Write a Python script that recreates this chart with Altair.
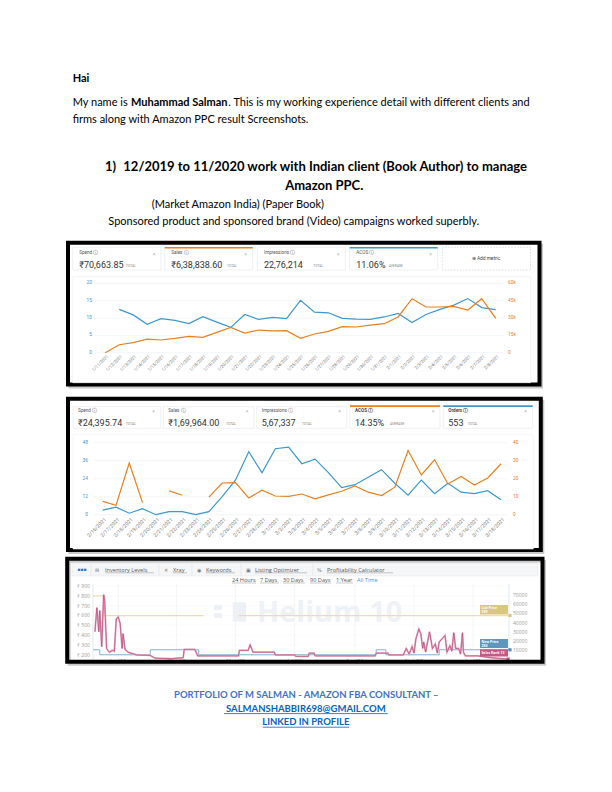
import altair as alt
import pandas as pd

# ---------------- data ----------------
p1_metric_names = ["Spend ⓘ", "Sales ⓘ", "Impressions ⓘ", "ACOS ⓘ"]
p1_metric_values = ["₹70,663.85", "₹6,38,838.60", "22,76,214", "11.06%"]
p1_metric_units = ["TOTAL", "TOTAL", "TOTAL", "AVERAGE"]

p1_dates = ["1/11/2021", "1/12/2021", "1/13/2021", "1/14/2021", "1/15/2021", "1/16/2021",
            "1/17/2021", "1/18/2021", "1/19/2021", "1/20/2021", "1/21/2021", "1/22/2021",
            "1/23/2021", "1/24/2021", "1/25/2021", "1/26/2021", "1/27/2021", "1/28/2021",
            "1/29/2021", "1/30/2021", "1/31/2021", "2/1/2021", "2/2/2021", "2/3/2021",
            "2/4/2021", "2/5/2021", "2/6/2021", "2/7/2021", "2/8/2021"]
p1_acos = [None, 12.5, 10.9, 8.2, 9.8, 9.3, 8.4, 10.4, 8.8, 7.3, 11.0, 9.6, 10.2, 9.8, 15.1,
           11.7, 11.5, 9.9, 9.7, 9.6, 10.3, 11.3, 8.7, 11.0, 12.5, 13.7, 15.6, 13.0, 12.4]
p1_sales = [0, 6900, 8700, 11800, 11000, 12400, 14100, 13300, 17600, 21900, 17000, 19600,
            18800, 19000, 12400, 16200, 18500, 22500, 22200, 23900, 25100, 30900, 46700,
            39500, 39500, 40100, 36900, 46700, 29700]
p1_left_ticks = [0, 5, 10, 15, 20]
p1_left_labels = ["0", "5", "10", "15", "20"]
p1_right_ticks = [0, 15000, 30000, 45000, 60000]
p1_right_labels = ["0", "15k", "30k", "45k", "60k"]

p2_metric_names = ["Spend ⓘ", "Sales ⓘ", "Impressions ⓘ", "ACOS ⓘ", "Orders ⓘ"]
p2_metric_values = ["₹24,395.74", "₹1,69,964.00", "5,67,337", "14.35%", "553"]
p2_metric_units = ["TOTAL", "TOTAL", "TOTAL", "AVERAGE", "TOTAL"]

p2_dates = ["2/16/2021", "2/17/2021", "2/18/2021", "2/19/2021", "2/20/2021", "2/21/2021",
            "2/22/2021", "2/23/2021", "2/24/2021", "2/25/2021", "2/26/2021", "2/27/2021",
            "2/28/2021", "3/1/2021", "3/2/2021", "3/3/2021", "3/4/2021", "3/5/2021",
            "3/6/2021", "3/7/2021", "3/8/2021", "3/9/2021", "3/10/2021", "3/11/2021",
            "3/12/2021", "3/13/2021", "3/14/2021", "3/15/2021", "3/16/2021", "3/17/2021",
            "3/18/2021"]
p2_orders = [3, 5, 1, 4, 0, 2, 2, 0, 2, 12, 23, 42, 28, 44, 45, 34, 37, 28, 18, 20, 25, 30,
             21, 13, 23, 14, 21, 15, 14, 16, 10]
p2_acos = [7.4, 5.2, 28.7, 6.7, None, 13.2, 10.8, None, 9.8, 17.6, 17.8, 9.3, 13.6, 10.4,
           10.2, 11.5, 8.8, 11.0, 13.0, 16.0, 12.5, 10.6, 15.3, 35.7, 22.1, 30.5, 17.1, 21.2,
           16.5, 20.4, 28.3]
p2_left_ticks = [0, 12, 24, 36, 48]
p2_left_labels = ["0", "12", "24", "36", "48"]
p2_right_ticks = [0, 10, 20, 30, 40]
p2_right_labels = ["0", "10", "20", "30", "40"]

h_tabs = ["Inventory Levels", "Xray", "Keywords", "Listing Optimizer", "Profitability Calculator"]
h_ranges = ["24 Hours", "7 Days", "30 Days", "90 Days", "1 Year", "All Time"]
h_list_dates = ["2019-12-06", "2019-12-18", "2020-03-29", "2020-03-30", "2020-05-04", "2021-02-08"]
h_list_price = [799, 599, 599, None, 599, 599]
h_new_dates = ["2019-12-06", "2019-12-13", "2020-02-03", "2020-03-24", "2020-09-23",
               "2020-10-03", "2020-11-27", "2021-02-08"]
h_new_price = [250, 199, 250, 199, 250, 199, 250, 250]
h_rank_dates = ["2019-12-08", "2019-12-10", "2019-12-12", "2019-12-13", "2019-12-15",
                "2019-12-17", "2019-12-18", "2019-12-20", "2019-12-23", "2019-12-26",
                "2019-12-28", "2019-12-30", "2020-01-01", "2020-01-03", "2020-01-05",
                "2020-01-06", "2020-01-08", "2020-01-11", "2020-01-20", "2020-02-03",
                "2020-02-08", "2020-02-25", "2020-03-08", "2020-03-09", "2020-03-20",
                "2020-03-23", "2020-05-04", "2020-05-05", "2020-05-14", "2020-05-16",
                "2020-05-19", "2020-06-10", "2020-06-11", "2020-07-01", "2020-07-02",
                "2020-07-15", "2020-07-16", "2020-07-21", "2020-07-22", "2020-09-22",
                "2020-09-23", "2020-10-05", "2020-10-06", "2020-10-21", "2020-10-24",
                "2020-10-27", "2020-10-30", "2020-11-01", "2020-11-03", "2020-11-06",
                "2020-11-08", "2020-11-10", "2020-11-11", "2020-11-13", "2020-11-17",
                "2020-11-20", "2020-11-23", "2020-11-25", "2020-11-27", "2020-11-30",
                "2020-12-03", "2020-12-05", "2020-12-08", "2020-12-10", "2020-12-12",
                "2020-12-14", "2020-12-17", "2020-12-19", "2020-12-21", "2020-12-22",
                "2020-12-24", "2021-01-06", "2021-01-20", "2021-02-06"]
h_rank = [30000, 56000, 30000, 53000, 14000, 70000, 64000, 12000, 8000, 10000,
          9000, 44000, 46000, 39000, 12000, 28000, 11000, 8000, 5000, 4500,
          1500, 1000, 2000, 11000, 11000, 4000, 4000, 10000, 10000, 16000,
          8000, 8000, 5000, 5000, 3500, 3500, 7000, 7000, 4000, 4000,
          7000, 7000, 5000, 5000, 12000, 6000, 14000, 7000, 22500, 33000,
          28000, 12000, 19000, 8000, 30000, 12000, 17000, 7000, 19000, 22500,
          26000, 8000, 15000, 9000, 29000, 12000, 12000, 6000, 29000, 8000,
          4000, 4000, 2000, 500]
h_left_ticks = [200, 300, 400, 500, 600, 700, 800, 900]
h_left_labels = ["₹ 200", "₹ 300", "₹ 400", "₹ 500", "₹ 600", "₹ 700", "₹ 800", "₹ 900"]
h_right_ticks = [10000, 20000, 30000, 40000, 50000, 60000, 70000]
h_right_labels = ["10000", "20000", "30000", "40000", "50000", "60000", "70000"]
h_month_dates = ["2020-01-01", "2020-03-01", "2020-05-01", "2020-07-01", "2020-09-01",
                 "2020-11-01", "2021-01-01"]
h_month_labels = ["Jan '20", "Mar '20", "May '20", "Jul '20", "Sep '20", "Nov '20", "Jan '21"]

# ---------------- helpers ----------------
OFF = 8


def px(v):
    return v - OFF


ONE = pd.DataFrame({"k": [0]})
layers = []

BLUE = "#3d98cc"
ORANGE = "#e8801f"
DOC = "Lato"
AMZ = "Roboto"
H10 = "Open Sans"


def T(s, x, y, size=11, color="#000000", weight="normal", align="left", font=DOC,
      baseline="middle", angle=0, opacity=1.0):
    layers.append(alt.Chart(ONE).mark_text(
        fontSize=size, color=color, fontWeight=weight, align=align, font=font,
        baseline=baseline, angle=angle, opacity=opacity
    ).encode(x=alt.value(px(x)), y=alt.value(px(y)), text=alt.value(s)))


def R(x1, y1, x2, y2, fill=None, stroke=None, sw=1.0, dash=None, opacity=1.0, radius=0):
    kw = dict(opacity=opacity)
    if fill:
        kw["fill"] = fill
    else:
        kw["fill"] = "#ffffff"
        kw["fillOpacity"] = 0
    if stroke:
        kw["stroke"] = stroke
        kw["strokeWidth"] = sw
    else:
        kw["strokeWidth"] = 0
    if dash:
        kw["strokeDash"] = dash
    if radius:
        kw["cornerRadius"] = radius
    layers.append(alt.Chart(ONE).mark_rect(**kw).encode(
        x=alt.value(px(x1)), x2=alt.value(px(x2)), y=alt.value(px(y1)), y2=alt.value(px(y2))))


def HL(x1, x2, y, color, sw=1.0, dash=None):
    kw = dict(color=color, strokeWidth=sw)
    if dash:
        kw["strokeDash"] = dash
    layers.append(alt.Chart(ONE).mark_rule(**kw).encode(
        x=alt.value(px(x1)), x2=alt.value(px(x2)), y=alt.value(px(y))))


def VLn(x, y1, y2, color, sw=1.0):
    layers.append(alt.Chart(ONE).mark_rule(color=color, strokeWidth=sw).encode(
        x=alt.value(px(x)), y=alt.value(px(y1)), y2=alt.value(px(y2))))


def segs(values):
    s, out = 0, []
    for v in values:
        if v is None:
            s += 1
        out.append(s)
    return out


def yticks(ticks, labels, scale, x, align, color, size, font):
    df = pd.DataFrame({"v": ticks, "lab": labels})
    layers.append(alt.Chart(df).mark_text(
        align=align, baseline="middle", fontSize=size, color=color, font=font
    ).encode(x=alt.value(px(x)), y=alt.Y("v:Q", scale=scale, axis=None), text="lab:N"))


def grid(ticks, scale, x1, x2, color, sw=0.7):
    df = pd.DataFrame({"v": ticks})
    layers.append(alt.Chart(df).mark_rule(color=color, strokeWidth=sw).encode(
        x=alt.value(px(x1)), x2=alt.value(px(x2)), y=alt.Y("v:Q", scale=scale, axis=None)))


def frame(x1, y1, x2, y2):
    R(x1 + 2, y1 + 2.5, x2 + 2, y2 + 2.5, stroke="#8a8a8a", sw=3, opacity=0.45)
    R(x1, y1, x2, y2, fill="#ffffff", stroke="#000000", sw=4)


# ---------------- document text ----------------
T("Hai", 72.7, 79.3, 11, weight="bold")
T("My name is ", 72.7, 103.3, 11)
T("Muhammad Salman", 131, 103.3, 11, weight="bold")
T(". This is my working experience detail with different clients and", 228.3, 103.3, 11)
T("firms along with Amazon PPC result Screenshots.", 72.7, 120, 11)
T("1)", 105, 166.7, 13, weight="bold")
T("12/2019 to 11/2020 work with Indian client (Book Author) to manage", 123.3, 166.7, 13,
  weight="bold")
T("Amazon PPC.", 324.2, 186, 13, weight="bold", align="center")
T("(Market Amazon India) (Paper Book)", 151.7, 205, 11)
T("Sponsored product and sponsored brand (Video) campaigns worked superbly.", 108.3, 222.3, 11)

# ---------------- panel 1 ----------------
frame(68, 242.7, 539.5, 384.5)
card1_x = [(72.7, 161), (164.7, 252.7), (257.3, 345.3), (349.7, 437.7)]
unit1_x = [126, 227, 313.3, 388.7]
top1 = [None, ORANGE, None, BLUE]
for k, (a, b) in enumerate(card1_x):
    R(a, 247.3, b, 270, fill="#ffffff", stroke="#e2e5e8", sw=0.6)
    if top1[k]:
        R(a, 247.0, b, 248.6, fill=top1[k])
    T(p1_metric_names[k], a + 6.6, 253.3, 4.6, "#555555", font=AMZ)
    T("×", b - 7, 253.8, 5, "#b5b5b5", font=AMZ, align="center")
    T(p1_metric_values[k], a + 6.6, 265, 9, "#333333", font=AMZ)
    T(p1_metric_units[k], unit1_x[k], 265.6, 3.3, "#888888", font=AMZ)
R(442.3, 247.3, 530.5, 270, fill="#ffffff", stroke="#c8c8c8", sw=0.6, dash=[1.5, 1.5])
T("⊕ Add metric", 486, 259, 4.8, "#444444", font=AMZ, align="center")
R(72.7, 276.7, 530.5, 382.7, fill="#ffffff", stroke="#eceef1", sw=0.6)

n1 = len(p1_dates)
x1s = alt.Scale(domain=[0, n1 - 1], range=[px(105.3), px(495.7)], nice=False)
y1l = alt.Scale(domain=[0, 20], range=[px(352.7), px(283.3)], nice=False)
y1r = alt.Scale(domain=[0, 60000], range=[px(352.7), px(283.3)], nice=False)
grid(p1_left_ticks, y1l, 94, 503, "#edf0f3")
yticks(p1_left_ticks, p1_left_labels, y1l, 92, "right", "#4f8fc0", 4.8, AMZ)
yticks(p1_right_ticks, p1_right_labels, y1r, 508, "left", ORANGE, 4.8, AMZ)
p1 = pd.DataFrame({"i": list(range(n1)), "date": p1_dates, "acos": p1_acos, "sales": p1_sales})
layers.append(alt.Chart(p1).mark_line(color=BLUE, strokeWidth=1.2).encode(
    x=alt.X("i:Q", scale=x1s, axis=None), y=alt.Y("acos:Q", scale=y1l, axis=None)))
layers.append(alt.Chart(p1).mark_line(color=ORANGE, strokeWidth=1.2).encode(
    x=alt.X("i:Q", scale=x1s, axis=None), y=alt.Y("sales:Q", scale=y1r, axis=None)))
layers.append(alt.Chart(p1).mark_text(
    angle=315, align="right", baseline="middle", fontSize=4.4, color="#7a7a7a", font=AMZ,
    xOffset=2.5).encode(x=alt.X("i:Q", scale=x1s, axis=None), y=alt.value(px(356)),
                        text="date:N"))

# ---------------- panel 2 ----------------
frame(68, 398.7, 540.8, 550)
card2_x = [(73, 160.7), (163.3, 254), (256.7, 346.7), (350, 440), (443.3, 532.7)]
unit2_x = [126, 226, 302, 390, 467.7]
top2 = [None, None, None, ORANGE, BLUE]
for k, (a, b) in enumerate(card2_x):
    R(a, 406.7, b, 428.3, fill="#ffffff", stroke="#e2e5e8", sw=0.6)
    if top2[k]:
        R(a, 405.3, b, 406.9, fill=top2[k])
    T(p2_metric_names[k], a + 5, 410.7, 4.6, "#444444" if top2[k] else "#555555",
      weight="bold" if top2[k] else "normal", font=AMZ)
    T("×", b - 7, 411.2, 5, "#b5b5b5", font=AMZ, align="center")
    T(p2_metric_values[k], a + 5, 423.3, 9, "#333333", font=AMZ)
    T(p2_metric_units[k], unit2_x[k], 424, 3.3, "#888888", font=AMZ)
R(73, 434.7, 533.3, 549, fill="#ffffff", stroke="#eceef1", sw=0.6)

n2 = len(p2_dates)
x2s = alt.Scale(domain=[0, n2 - 1], range=[px(102.7), px(501)], nice=False)
y2l = alt.Scale(domain=[0, 48], range=[px(514.7), px(442.7)], nice=False)
y2r = alt.Scale(domain=[0, 40], range=[px(514.7), px(442.7)], nice=False)
grid(p2_left_ticks, y2l, 93.3, 506.7, "#edf0f3")
yticks(p2_left_ticks, p2_left_labels, y2l, 88, "right", "#4f8fc0", 4.8, AMZ)
yticks(p2_right_ticks, p2_right_labels, y2r, 513, "left", ORANGE, 4.8, AMZ)
p2 = pd.DataFrame({"i": list(range(n2)), "date": p2_dates, "orders": p2_orders,
                   "acos": p2_acos, "seg": segs(p2_acos)})
layers.append(alt.Chart(p2).mark_line(color=BLUE, strokeWidth=1.2).encode(
    x=alt.X("i:Q", scale=x2s, axis=None), y=alt.Y("orders:Q", scale=y2l, axis=None)))
layers.append(alt.Chart(p2).mark_line(color=ORANGE, strokeWidth=1.2).encode(
    x=alt.X("i:Q", scale=x2s, axis=None), y=alt.Y("acos:Q", scale=y2r, axis=None),
    detail="seg:N"))
layers.append(alt.Chart(p2).mark_text(
    angle=315, align="right", baseline="middle", fontSize=5.2, color="#7a7a7a", font=AMZ,
    xOffset=2.5).encode(x=alt.X("i:Q", scale=x2s, axis=None), y=alt.value(px(518.5)),
                        text="date:N"))

# ---------------- panel 3 (Helium 10) ----------------
R(67.2, 558.7, 542.5, 661.8, fill="#ffffff")
START = pd.Timestamp("2019-12-06")


def days(ds):
    return [(pd.Timestamp(d) - START).days for d in ds]


hx = alt.Scale(domain=[0, 430], range=[px(93), px(510)], nice=False)
hyl = alt.Scale(domain=[150, 900], range=[px(659.6), px(586)], nice=False)
hyr = alt.Scale(domain=[0, 70000], range=[px(659.6), px(594.7)], nice=False)

# tab bar
R(72, 563.5, 538, 576, fill="#f5f6f8", stroke="#e4e6e9", sw=0.5)
for sx in [91, 159, 192, 241, 313]:
    VLn(sx, 564, 576, "#e0e2e6", 0.6)
T("▪▪▪", 77.5, 569.7, 4.5, "#2f6fd0", font="DejaVu Sans")
tab_x = [(105, 154), (173, 187), (206, 235), (255, 307), (327, 393)]
icons = [("⊟", 95), ("✕", 164), ("◉", 197), ("▣", 246), ("%", 317)]
for k, (a, b) in enumerate(tab_x):
    T(icons[k][0], icons[k][1], 569.7, 5, "#777777", font="DejaVu Sans")
    T(h_tabs[k], a, 569.7, 5.6, "#555555", font=H10)
    HL(a, b, 572.8, "#777777", 0.4)
range_x = [(232, 256), (260, 279), (283, 305), (310, 331), (336, 353), (357, 380)]
for k, (a, b) in enumerate(range_x):
    last = k == len(range_x) - 1
    T(h_ranges[k], a, 580, 5.6, "#4a90e2" if last else "#555555", font=H10)
    if not last:
        HL(a, b, 583, "#777777", 0.4)

# plot grid
hm = pd.DataFrame({"d": days(h_month_dates), "lab": h_month_labels})
layers.append(alt.Chart(hm).mark_rule(color="#eef0f3", strokeWidth=0.7).encode(
    x=alt.X("d:Q", scale=hx, axis=None), y=alt.value(px(584)), y2=alt.value(px(660))))
grid(h_left_ticks, hyl, 93, 509, "#f3f4f6", 0.5)
VLn(93, 584, 660, "#d9dde3", 0.6)
VLn(509, 584, 660, "#c6d8ea", 0.6)
yticks(h_left_ticks, h_left_labels, hyl, 77, "left", "#9a9a9a", 5, H10)
yticks(h_right_ticks, h_right_labels, hyr, 513, "left", "#9a9a9a", 5, H10)

# watermark
R(214, 605, 222, 610, fill="#edf1f5")
R(214, 613, 222, 618, fill="#edf1f5")
R(232.7, 602.3, 246, 621.7, fill="#edf1f5")
T("Helium 10", 257, 613, 29, "#eef2f6", weight="bold", font=H10)

hl = pd.DataFrame({"d": days(h_list_dates), "v": h_list_price, "seg": segs(h_list_price)})
layers.append(alt.Chart(hl).mark_line(color="#eadfa6", strokeWidth=1.3, interpolate="step-after").encode(
    x=alt.X("d:Q", scale=hx, axis=None), y=alt.Y("v:Q", scale=hyl, axis=None), detail="seg:N"))
hn = pd.DataFrame({"d": days(h_new_dates), "v": h_new_price})
layers.append(alt.Chart(hn).mark_line(color="#7fb0d6", strokeWidth=1.0, interpolate="step-after").encode(
    x=alt.X("d:Q", scale=hx, axis=None), y=alt.Y("v:Q", scale=hyl, axis=None)))
hr = pd.DataFrame({"d": days(h_rank_dates), "v": h_rank})
layers.append(alt.Chart(hr).mark_line(color="#e3a9c0", strokeWidth=1.8).encode(
    x=alt.X("d:Q", scale=hx, axis=None), y=alt.Y("v:Q", scale=hyr, axis=None)))
layers.append(alt.Chart(hr).mark_line(color="#b73a6e", strokeWidth=0.6).encode(
    x=alt.X("d:Q", scale=hx, axis=None), y=alt.Y("v:Q", scale=hyr, axis=None)))

# end markers
layers.append(alt.Chart(hl.tail(1)).mark_square(color="#d8c77c", size=10, opacity=1).encode(
    x=alt.X("d:Q", scale=hx, axis=None), y=alt.Y("v:Q", scale=hyl, axis=None)))
layers.append(alt.Chart(hn.tail(1)).mark_square(color="#4f8fbf", size=10, opacity=1).encode(
    x=alt.X("d:Q", scale=hx, axis=None), y=alt.Y("v:Q", scale=hyl, axis=None)))
layers.append(alt.Chart(hr.tail(1)).mark_square(color="#c0507c", size=10, opacity=1).encode(
    x=alt.X("d:Q", scale=hx, axis=None), y=alt.Y("v:Q", scale=hyr, axis=None)))

# right-side value boxes
R(480, 605, 508, 614.5, fill="#d8c77c")
T("List Price", 481.5, 607.6, 3.4, "#ffffff", font=H10, weight="bold")
T("599", 481.5, 611.8, 3.4, "#ffffff", font=H10, weight="bold")
R(480, 639, 508, 648, fill="#5e97be")
T("New Price", 481.5, 641.6, 3.4, "#ffffff", font=H10, weight="bold")
T("250", 481.5, 645.6, 3.4, "#ffffff", font=H10, weight="bold")
R(480, 649.3, 508, 656.5, fill="#c45a84")
T("Sales Rank", 481.5, 653, 3.4, "#ffffff", font=H10, weight="bold")
T("13", 500.5, 653, 3.4, "#ffffff", font=H10, weight="bold")

# month labels (partly hidden under frame)
layers.append(alt.Chart(hm).mark_text(fontSize=5.2, color="#888888", font=H10, baseline="middle").encode(
    x=alt.X("d:Q", scale=hx, axis=None), y=alt.value(px(661)), text="lab:N"))

R(67.2 + 2, 558.7 + 2.5, 542.5 + 2, 661.8 + 2.5, stroke="#8a8a8a", sw=3, opacity=0.45)
R(67.2, 558.7, 542.5, 661.8, stroke="#000000", sw=4)

# ---------------- footer ----------------
T("PORTFOLIO OF M SALMAN - AMAZON FBA CONSULTANT –", 306.3, 695.3, 9.5, "#4472c4",
  weight="bold", align="center")
T("SALMANSHABBIR698@GMAIL.COM", 305.8, 708.7, 9.5, "#0563c1", weight="bold", align="center")
HL(224, 387.7, 713.6, "#0563c1", 0.8)
T("LINKED IN PROFILE", 305.8, 722.3, 9.5, "#0563c1", weight="bold", align="center")
HL(262.7, 349, 727.2, "#0563c1", 0.8)

chart = alt.layer(*layers).resolve_scale(x="independent", y="independent").properties(
    width=596, height=770, padding=0, background="white",
    autosize=alt.AutoSizeParams(type="none")
).configure_view(strokeWidth=0)

chart.save("out.html", embed_options={"renderer": "svg", "actions": False})
